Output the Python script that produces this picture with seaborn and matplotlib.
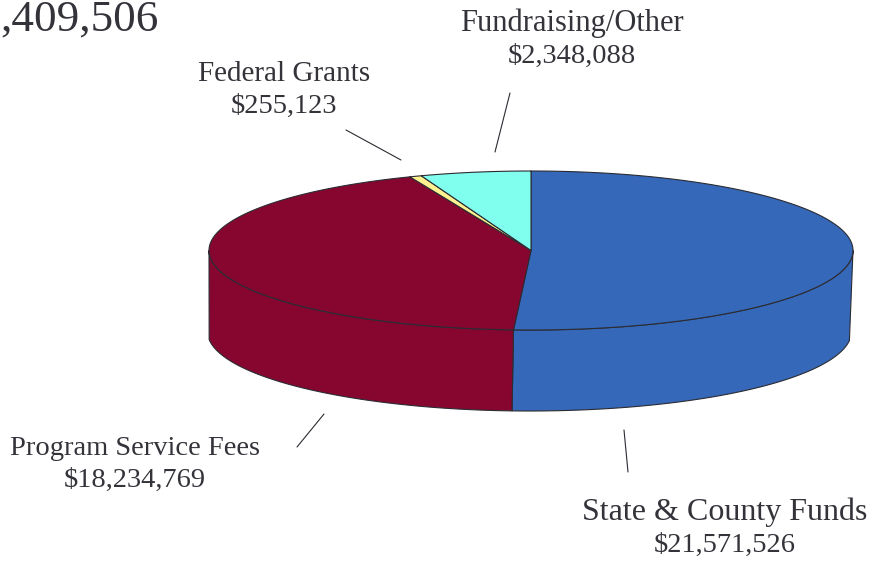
import numpy as np
import seaborn as sns
import matplotlib
import matplotlib.pyplot as plt

matplotlib.use("Agg")

# Data, clockwise from 12 o'clock
categories = ["State & County Funds", "Program Service Fees", "Federal Grants", "Fundraising/Other"]
amounts = [21571526, 18234769, 255123, 2348088]
amount_labels = ["$21,571,526", "$18,234,769", "$255,123", "$2,348,088"]
slice_colors = ["#3568b8", "#86062f", "#fdf28f", "#80ffee"]
total_label = ",409,506"

# Pie geometry in picture pixels
CX, CY = 531, 250.5
RX, RY = 322, 79.5
DEPTH = 81
WALL_SHIFT = -1.5
WALL_LEFT, WALL_RIGHT = 209, 849.5
EDGE = "#2b2b33"
TEXT = "#33333a"

sns.set_theme(style="white")
plt.rcParams["font.family"] = ["Liberation Serif", "DejaVu Serif"]
palette = sns.color_palette(slice_colors)

fig = plt.figure(figsize=(8.72, 5.61), dpi=100)
ax = fig.add_axes([0, 0, 1, 1])
ax.set_xlim(0, 872)
ax.set_ylim(561, 0)
ax.axis("off")


def rim(a, b):
    t = np.linspace(a, b, 300)
    return CX + RX * np.sin(t), CY - RY * np.cos(t)


def lower_rim(a, b):
    # the bottom ellipse sits a bit left and is cut square by the wall sides
    t = np.linspace(a, b, 300)
    x = CX + WALL_SHIFT + RX * np.sin(t)
    y = CY + DEPTH - RY * np.cos(t)
    keep = (x >= WALL_LEFT) & (x <= WALL_RIGHT)
    return x[keep], y[keep]


# Slice boundaries as angles clockwise from the top
fractions = np.array(amounts) / sum(amounts)
edges = np.concatenate([[0], np.cumsum(fractions)]) * 2 * np.pi

# Side wall, only the part of each slice that faces the viewer
for i, color in enumerate(palette):
    a = max(edges[i], np.pi / 2)
    b = min(edges[i + 1], 3 * np.pi / 2)
    if a >= b:
        continue
    x, y = rim(a, b)
    x2, y2 = lower_rim(a, b)
    ax.fill(np.r_[x, x2[::-1]], np.r_[y, y2[::-1]], facecolor=color,
            edgecolor=EDGE, linewidth=0.8, joinstyle="round")

# Top face
for i, color in enumerate(palette):
    x, y = rim(edges[i], edges[i + 1])
    ax.fill(np.r_[CX, x], np.r_[CY, y], facecolor=color,
            edgecolor=EDGE, linewidth=0.8, joinstyle="round")

# Leader lines
leaders = [((624, 430), (628, 472)), ((324, 414), (297, 447)),
           ((346, 130), (401, 160)), ((510, 93), (495, 152))]
for start, end in leaders:
    ax.plot([start[0], end[0]], [start[1], end[1]], color=EDGE, linewidth=0.8)

# Labels: name line and amount line, sizes fitted to each label's width
label_pos = [(725, 520, 725, 552), (135, 455, 135, 487),
             (284, 81, 284, 113), (572, 31, 572, 63)]
name_sizes = [23, 20.5, 21, 22]
for name, amount, size, (x1, y1, x2, y2) in zip(categories, amount_labels, name_sizes, label_pos):
    ax.text(x1, y1, name, ha="center", va="baseline", fontsize=size, color=TEXT)
    ax.text(x2, y2, amount, ha="center", va="baseline", fontsize=20.5, color=TEXT)

# Total, only the part the picture shows
ax.text(0, 31, total_label, ha="left", va="baseline", fontsize=32.5, color=TEXT)

fig.savefig("out.png", dpi=100)
plt.close(fig)
